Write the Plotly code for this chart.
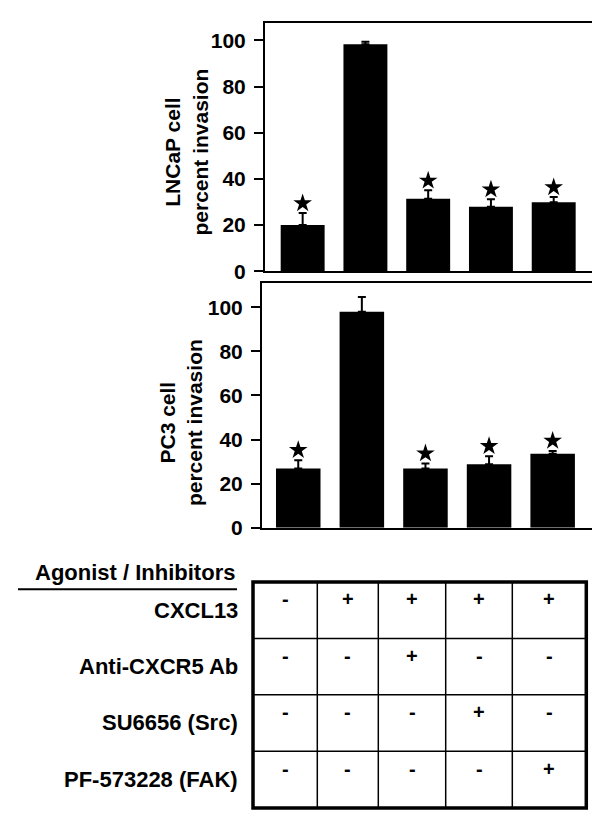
import plotly.graph_objects as go

# ---------------- data ----------------
groups = ["G1", "G2", "G3", "G4", "G5"]
lncap_mean = [20.0, 98.3, 31.4, 27.9, 29.9]
lncap_err = [5.2, 1.1, 3.6, 3.3, 2.2]
lncap_sig = [True, False, True, True, True]
pc3_mean = [26.9, 98.0, 26.9, 28.8, 33.6]
pc3_err = [3.7, 6.7, 2.2, 3.6, 1.2]
pc3_sig = [True, False, True, True, True]
y_ticks = [0, 20, 40, 60, 80, 100]

table_title = "Agonist / Inhibitors"
treatments = ["CXCL13", "Anti-CXCR5 Ab", "SU6656 (Src)", "PF-573228 (FAK)"]
treatment_signs = [
    ["-", "+", "+", "+", "+"],
    ["-", "-", "+", "-", "-"],
    ["-", "-", "-", "+", "-"],
    ["-", "-", "-", "-", "+"],
]

# ---------------- layout helpers ----------------
W, H = 600, 826
def px(x):
    return x / W
def py(y):
    return 1 - y / H

FONT = "Liberation Sans, Arial, sans-serif"
fig = go.Figure()

panels = [
    (lncap_mean, lncap_err, lncap_sig, "x", "y", 4.2),
    (pc3_mean, pc3_err, pc3_sig, "x2", "y2", 4.6),
]
for mean, err, sig, xa, ya, pad in panels:
    fig.add_trace(go.Bar(
        x=groups, y=mean, xaxis=xa, yaxis=ya, width=0.7,
        marker=dict(color="black", line=dict(width=0)),
        error_y=dict(type="data", array=err, arrayminus=[0] * len(err),
                     symmetric=False, color="black", thickness=2, width=4),
        showlegend=False, hoverinfo="skip",
    ))
    sx = [g for g, s in zip(groups, sig) if s]
    sy = [m + e + pad for m, e, s in zip(mean, err, sig) if s]
    fig.add_trace(go.Scatter(
        x=sx, y=sy, xaxis=xa, yaxis=ya, mode="markers",
        marker=dict(symbol="star", size=14, color="black", line=dict(width=0)),
        showlegend=False, hoverinfo="skip",
    ))

axis_common = dict(showline=True, linecolor="black", linewidth=2, mirror=True,
                   showgrid=False, zeroline=False)
ytick_common = dict(ticks="outside", ticklen=9, tickwidth=2, tickcolor="black",
                    ticklabelstandoff=4,
                    tickfont=dict(size=21, family=FONT, weight="bold"))
fig.update_layout(
    width=W, height=H, margin=dict(l=0, r=0, t=0, b=0),
    paper_bgcolor="white", plot_bgcolor="white", bargap=0.3,
    font=dict(family=FONT, color="black"),
    xaxis=dict(domain=[px(257), px(586.5)], range=[-0.6, 4.65],
               showticklabels=False, ticks="", anchor="y", **axis_common),
    yaxis=dict(domain=[py(266.7), py(15.7)], range=[0, 107.3], tickvals=y_ticks,
               anchor="x", **ytick_common, **axis_common),
    xaxis2=dict(domain=[px(254), px(586)], range=[-0.57, 4.65],
                showticklabels=False, ticks="", anchor="y2", **axis_common),
    yaxis2=dict(domain=[py(526.7), py(279)], range=[0, 110.9], tickvals=y_ticks,
                anchor="x2", **ytick_common, **axis_common),
)

annotations = []
shapes = []
# y-axis titles
for text, xc, yc in [("LNCaP cell<br>percent invasion", 178, 146.5),
                     ("PC3 cell<br>percent invasion", 173, 420.7)]:
    annotations.append(dict(text=text, x=px(xc), y=py(yc), xref="paper", yref="paper",
                            textangle=-90, showarrow=False, xanchor="center",
                            yanchor="middle",
                            font=dict(size=21, family=FONT, weight="bold")))

# table title with underline
annotations.append(dict(text=table_title, x=px(126.5), y=py(571.7), xref="paper",
                        yref="paper", showarrow=False, xanchor="center",
                        yanchor="middle",
                        font=dict(size=22, family=FONT, weight="bold")))
shapes.append(dict(type="line", xref="paper", yref="paper", x0=px(10), x1=px(229),
                   y0=py(589), y1=py(589), line=dict(color="black", width=2)))

col_edges = [245, 309.3, 370.3, 437.7, 504.3, 578.3]
row_edges = [581.7, 639, 696, 753.3, 810.7]

for c in col_edges[1:-1]:
    shapes.append(dict(type="line", xref="paper", yref="paper", x0=px(c), x1=px(c),
                       y0=py(row_edges[0]), y1=py(row_edges[-1]),
                       line=dict(color="black", width=1.5)))
for r in row_edges[1:-1]:
    shapes.append(dict(type="line", xref="paper", yref="paper", x0=px(col_edges[0]),
                       x1=px(col_edges[-1]), y0=py(r), y1=py(r),
                       line=dict(color="black", width=1.5)))
shapes.append(dict(type="rect", xref="paper", yref="paper", x0=px(col_edges[0]),
                   x1=px(col_edges[-1]), y0=py(row_edges[-1]), y1=py(row_edges[0]),
                   line=dict(color="black", width=3.5)))

for i, name in enumerate(treatments):
    top, bot = row_edges[i], row_edges[i + 1]
    annotations.append(dict(text=name, x=px(231.7), y=py((top + bot) / 2),
                            xref="paper", yref="paper", showarrow=False,
                            xanchor="right", yanchor="middle",
                            font=dict(size=22, family=FONT, weight="bold")))
    for j, s in enumerate(treatment_signs[i]):
        xc = (col_edges[j] + col_edges[j + 1]) / 2
        annotations.append(dict(text=s, x=px(xc), y=py(top + 17.5),
                                xref="paper", yref="paper", showarrow=False,
                                xanchor="center", yanchor="middle",
                                font=dict(size=20, family=FONT, weight="bold")))

fig.update_layout(annotations=annotations, shapes=shapes)
fig.write_html("out.html")
